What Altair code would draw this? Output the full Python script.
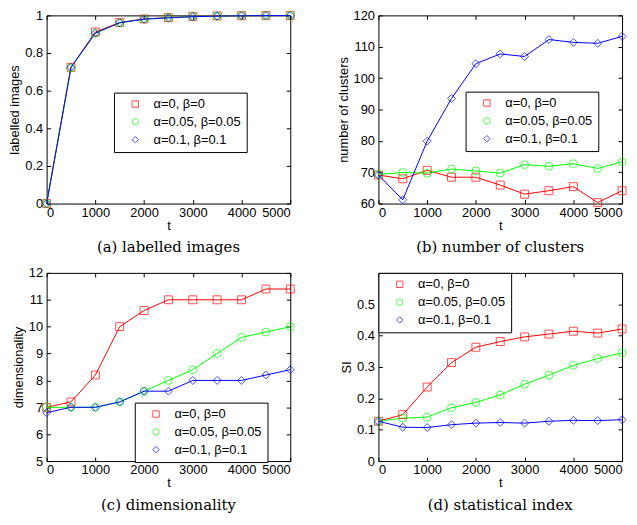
import altair as alt
import pandas as pd

t = [0, 500, 1000, 1500, 2000, 2500, 3000, 3500, 4000, 4500, 5000]
series = ["α=0, β=0", "α=0.05, β=0.05", "α=0.1, β=0.1"]
colors = ["#ff0000", "#00ff00", "#0000ff"]
shapes = ["square", "circle", "diamond"]

# (a) labelled images
a_red = [0, 0.724, 0.912, 0.962, 0.981, 0.988, 0.994, 0.997, 0.998, 0.999, 0.999]
a_green = [0, 0.722, 0.905, 0.960, 0.980, 0.988, 0.994, 0.996, 0.998, 0.999, 0.999]
a_blue = [0, 0.724, 0.906, 0.961, 0.980, 0.987, 0.993, 0.996, 0.998, 0.999, 0.999]

# (b) number of clusters
b_red = [69.1, 67.9, 70.6, 68.4, 68.4, 65.9, 63.0, 64.1, 65.4, 60.3, 64.1]
b_green = [69.3, 69.9, 69.7, 71.0, 70.4, 69.7, 72.4, 71.9, 72.7, 71.2, 73.3]
b_blue = [69.1, 61.2, 79.9, 93.5, 104.6, 107.7, 106.9, 112.3, 111.4, 111.1, 113.3]

# (c) dimensionality
c_red = [7.0, 7.2, 8.2, 10.0, 10.6, 11.0, 11.0, 11.0, 11.0, 11.4, 11.4]
c_green = [7.0, 7.0, 7.0, 7.2, 7.6, 8.0, 8.4, 9.0, 9.6, 9.8, 10.0]
c_blue = [6.8, 7.0, 7.0, 7.2, 7.6, 7.6, 8.0, 8.0, 8.0, 8.2, 8.4]

# (d) statistical index
d_red = [0.127, 0.148, 0.236, 0.314, 0.363, 0.381, 0.396, 0.405, 0.414, 0.408, 0.421]
d_green = [0.127, 0.137, 0.140, 0.170, 0.187, 0.211, 0.245, 0.274, 0.305, 0.327, 0.345]
d_blue = [0.127, 0.108, 0.107, 0.116, 0.121, 0.123, 0.121, 0.127, 0.130, 0.129, 0.132]

x_ticks = [0, 1000, 2000, 3000, 4000, 5000]

FONT = "Liberation Sans"
W, H = 246, 190


def make_df(vals):
    rows = []
    for s, c, v in zip(series, colors, vals):
        for ti, vi in zip(t, v):
            rows.append({"t": ti, "value": vi, "series": s, "col": c})
    return pd.DataFrame(rows)


def panel(vals, ytitle, ydomain, yticks, yfmt, lx, ly, caption):
    df = make_df(vals)
    xs = alt.Scale(domain=[0, 5000], nice=False, zero=False)
    ys = alt.Scale(domain=ydomain, nice=False, zero=False)
    base = alt.Chart(df)
    lines = base.mark_line(strokeWidth=1).encode(
        x=alt.X("t:Q", scale=xs,
                axis=alt.Axis(values=x_ticks, format="d", title="t", offset=-4, tickSize=4,
                              domain=False, labelPadding=3, titlePadding=0, grid=False)),
        y=alt.Y("value:Q", scale=ys,
                axis=alt.Axis(values=yticks, format=yfmt, title=ytitle, offset=-4,
                              tickSize=4, domain=False, labelPadding=4, titlePadding=3,
                              grid=False)),
        color=alt.Color("col:N", scale=None),
        detail="series:N",
        order="t:Q",
    )
    leg = alt.Legend(orient="none", legendX=lx, legendY=ly, title=None,
                     fillColor="white", strokeColor="black", padding=5,
                     symbolOffset=10, labelOffset=12, rowPadding=4,
                     labelFontSize=13, labelFont=FONT, labelColor="black",
                     symbolSize=42, symbolStrokeWidth=1)
    pts = base.mark_point(filled=False, size=64, strokeWidth=1).encode(
        x=alt.X("t:Q", scale=xs, axis=None),
        y=alt.Y("value:Q", scale=ys, axis=None),
        color=alt.Color("series:N", scale=alt.Scale(domain=series, range=colors),
                        sort=series, legend=leg),
        shape=alt.Shape("series:N", scale=alt.Scale(domain=series, range=shapes),
                        sort=series, legend=leg),
    )
    frame = base.mark_point(opacity=0).encode(
        x=alt.X("t:Q", scale=xs,
                axis=alt.Axis(orient="top", values=x_ticks, labels=False, title=None,
                              offset=-4, tickSize=4, domain=False, grid=False,
                              minExtent=0)),
        y=alt.Y("value:Q", scale=ys,
                axis=alt.Axis(orient="right", values=yticks, labels=False, title=None,
                              offset=-4, tickSize=4, domain=False, grid=False,
                              minExtent=0)),
    )
    return alt.layer(lines, pts, frame).resolve_axis(
        x="independent", y="independent"
    ).properties(
        width=W, height=H,
        title=alt.TitleParams(text=caption, orient="bottom", font="DejaVu Serif",
                              fontSize=15, fontWeight="normal", offset=8,
                              anchor="middle", color="black"),
    )


pa = panel([a_red, a_green, a_blue], "labelled images", [0, 1],
           [0, 0.2, 0.4, 0.6, 0.8, 1], ".1~f", 68, 78, "(a) labelled images")
pb = panel([b_red, b_green, b_blue], "number of clusters", [60, 120],
           [60, 70, 80, 90, 100, 110, 120], "d", 88, 77, "(b) number of clusters")
pc = panel([c_red, c_green, c_blue], "dimensionality", [5, 12],
           [5, 6, 7, 8, 9, 10, 11, 12], "d", 89, 131, "(c) dimensionality")
pd_ = panel([d_red, d_green, d_blue], "SI", [0, 0.6],
            [0, 0.1, 0.2, 0.3, 0.4, 0.5], ".1~f", 0, 0, "(d) statistical index")

chart = alt.concat(
    pa, pb, pc, pd_, columns=2,
    spacing=alt.RowColnumber(row=70, column=89), bounds="flush",
).resolve_scale(
    x="independent", y="independent", color="independent", shape="independent"
).resolve_legend(
    color="independent", shape="independent"
).properties(
    padding={"left": 0, "top": -2, "right": 0, "bottom": 0}
).configure_view(
    stroke="black", strokeWidth=1
).configure_axis(
    labelFont=FONT, titleFont=FONT, labelFontSize=13, titleFontSize=13,
    titleFontWeight="normal", labelColor="black", titleColor="black",
    tickColor="black",
)

chart.save("out.html", embed_options={"renderer": "svg", "actions": False})
